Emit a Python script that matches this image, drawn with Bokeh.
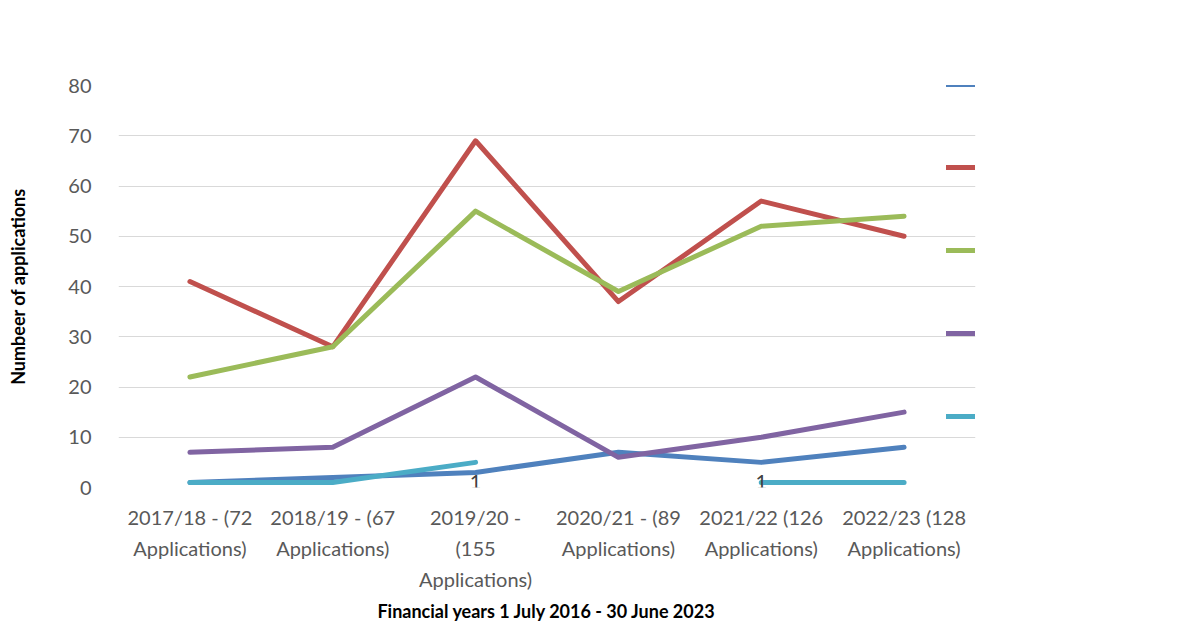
import math
from bokeh.plotting import figure
from bokeh.models import (Legend, LegendItem, Range1d, FactorRange, ColumnDataSource,
                          FixedTicker, Label)
from bokeh.core.properties import value
from bokeh.embed import file_html
from bokeh.resources import INLINE

NaN = float("nan")

years = [
    "2017/18 - (72\nApplications)",
    "2018/19 - (67\nApplications)",
    "2019/20 -\n(155\nApplications)",
    "2020/21 - (89\nApplications)",
    "2021/22 (126\nApplications)",
    "2022/23 (128\nApplications)",
]
eggs = [1, 2, 3, 7, 5, 8]
sperm = [41, 28, 69, 37, 57, 50]
embryo = [22, 28, 55, 39, 52, 54]
embryo_sperm_egg = [7, 8, 22, 6, 10, 15]
ovarian_tissue = [1, 1, 5, NaN, 1, 1]
testicular_tissue = [NaN, NaN, NaN, NaN, NaN, NaN]
label_years = [years[2], years[4]]
label_values = [1, 1]
label_texts = ["1", "1"]
y_ticks = [0, 10, 20, 30, 40, 50, 60, 70, 80]

# (first legend line, second legend line, values, colour)
series = [
    ("Eggs", "", eggs, "#4F81BD"),
    ("Sperm", "", sperm, "#C0504D"),
    ("Embryo", "", embryo, "#9BBB59"),
    ("Embryo & Sperm or", "Egg", embryo_sperm_egg, "#8064A2"),
    ("Cryopreserved", "Ovarian Tissue", ovarian_tissue, "#4BACC6"),
    ("Cryopreserved", "Testicular Tissue", testicular_tissue, "#F79646"),
]

FONT = "Lato"
FS = "20px"

p = figure(width=1200, height=624, x_range=FactorRange(*years, range_padding=0),
           y_range=Range1d(0, 80), output_backend="svg", toolbar_location=None,
           min_border_left=118, min_border_right=225, min_border_top=85,
           min_border_bottom=128)
p.outline_line_color = None
p.xgrid.grid_line_color = None
p.ygrid.grid_line_color = "#D9D9D9"
p.ygrid.grid_line_width = 1

p.yaxis.ticker = FixedTicker(ticks=y_ticks)
for ax in (p.xaxis[0], p.yaxis[0]):
    ax.axis_line_color = None
    ax.major_tick_line_color = None
    ax.minor_tick_line_color = None
    ax.major_label_text_font = FONT
    ax.major_label_text_font_size = FS
    ax.major_label_text_color = "#595959"
    ax.axis_label_text_font = FONT
    ax.axis_label_text_font_style = "bold"
    ax.axis_label_text_font_size = "18px"
    ax.axis_label_text_color = "#000000"

p.xaxis.axis_label = "Financial years 1 July 2016 - 30 June 2023"
p.yaxis.axis_label = "Numbeer of applications"
p.xaxis.major_label_text_line_height = 1.3
p.xaxis.major_label_standoff = 11
p.xaxis.axis_label_standoff = 6
p.yaxis.major_label_standoff = 21
p.yaxis.axis_label_standoff = 36

items = []
for first, second, vals, color in series:
    src = ColumnDataSource(dict(x=years, y=vals))
    r = p.line("x", "y", source=src, line_color=color, line_width=5,
               line_cap="round", line_join="round")
    items.append(LegendItem(label=first, renderers=[r]))

lab_src = ColumnDataSource(dict(x=label_years, y=label_values, t=label_texts))
p.text("x", "y", text="t", source=lab_src, text_font=value(FONT),
       text_font_size=FS, text_color="#404040", text_align="center",
       text_baseline="middle")

legend = Legend(items=items, location=(828, -27), orientation="vertical",
                border_line_color=None, background_fill_alpha=0,
                padding=0, margin=0, spacing=53, glyph_width=56,
                glyph_height=30, label_height=30, label_standoff=5,
                label_text_font=FONT, label_text_font_size=FS,
                label_text_color="#595959")
p.add_layout(legend, "center")

# second lines of the wrapped legend labels
for i, (first, second, vals, color) in enumerate(series):
    if second:
        yc = 496 - (93 + 83 * i + 30)
        p.add_layout(Label(x=889, y=496 - (93 + 83 * i + 30), x_units="screen",
                           y_units="screen", text=second, text_font=FONT,
                           text_font_size=FS, text_color="#595959",
                           text_align="left", text_baseline="middle"))

title = Label(x=464, y=468, x_units="screen", y_units="screen",
              text="Types of Storage Extension Applications", text_font=FONT,
              text_font_style="bold", text_font_size="23px", text_color="#000000",
              text_align="center", text_baseline="middle")
p.add_layout(title)

open("out.html", "w").write(file_html(p, INLINE))
